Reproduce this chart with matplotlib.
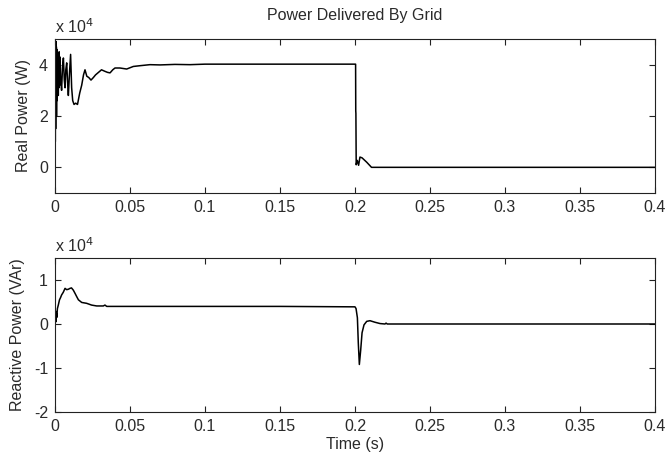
import matplotlib
matplotlib.use("Agg")
import matplotlib.pyplot as plt
import numpy as np

plt.rcParams['font.family'] = ['Liberation Sans', 'DejaVu Sans']

# Time axis ticks
x_ticks = [0, 0.05, 0.1, 0.15, 0.2, 0.25, 0.3, 0.35, 0.4]
x_tick_labels = ['0', '0.05', '0.1', '0.15', '0.2', '0.25', '0.3', '0.35', '0.4']

# Real power (units of 1e4 W)
real_t = [0.0, 0.0001, 0.0002, 0.0003, 0.0004, 0.0005, 0.0006, 0.0007, 0.0008, 0.0009,
          0.0010, 0.0012, 0.0014, 0.0016, 0.0018, 0.0020, 0.0022, 0.0024, 0.0026, 0.0028,
          0.0031, 0.0033, 0.0038, 0.0044, 0.0050, 0.0056, 0.0062, 0.0067,
          0.0072, 0.0078, 0.0084, 0.0089, 0.0096, 0.0104, 0.0111, 0.0118, 0.0127, 0.0138,
          0.0150, 0.0165, 0.0178, 0.0190, 0.0200, 0.0212, 0.0225, 0.0240, 0.0256, 0.0270,
          0.0290, 0.0310, 0.0333, 0.0350, 0.0367, 0.0385, 0.0400, 0.0433, 0.0478, 0.0522,
          0.0567, 0.0633, 0.0700, 0.0800, 0.0900, 0.1000, 0.1200, 0.1400, 0.1600, 0.1800,
          0.2004, 0.2005, 0.2006, 0.2008, 0.2015, 0.2024, 0.2033, 0.2047, 0.2078, 0.2110,
          0.2500, 0.3000, 0.3500, 0.4000]
real_p = [0.8, 5.0, 1.0, 4.9, 1.5, 4.8, 2.2, 4.9, 2.5, 4.7,
          2.0, 4.6, 2.6, 4.5, 3.0, 4.2, 2.8, 4.4, 3.1, 4.5,
          3.2, 4.3, 3.4, 3.0, 3.9, 4.26, 3.4, 3.1,
          3.8, 4.07, 3.3, 2.8, 3.6, 4.4, 3.1, 2.6, 2.45, 2.5,
          2.45, 2.9, 3.2, 3.6, 3.8, 3.55, 3.5, 3.4, 3.5, 3.6,
          3.7, 3.8, 3.74, 3.7, 3.68, 3.8, 3.87, 3.87, 3.83, 3.93,
          3.96, 4.0, 3.99, 4.01, 4.0, 4.02, 4.02, 4.02, 4.02, 4.02,
          4.02, 2.2, 2.1, 0.1, 0.27, 0.08, 0.4, 0.37, 0.2, 0.0,
          0.0, 0.0, 0.0, 0.0]

# Reactive power (units of 1e4 VAr)
reac_t = [0.0, 0.0003, 0.0006, 0.0009, 0.0012, 0.0016, 0.0022, 0.0030, 0.0037, 0.0044,
          0.0055, 0.0067, 0.0078, 0.0089, 0.0100, 0.0110, 0.0122, 0.0133, 0.0145, 0.0156,
          0.0178, 0.0211, 0.0244, 0.0278, 0.0322, 0.0333, 0.0345, 0.0500, 0.1000, 0.1500,
          0.2000, 0.2007, 0.2016, 0.2022, 0.2029, 0.2038, 0.2047, 0.2060, 0.2078, 0.2100,
          0.2133, 0.2167, 0.2200, 0.2207, 0.2215, 0.2500, 0.3000, 0.3500, 0.4000]
reac_q = [0.0, 0.3, 0.05, 0.25, 0.15, 0.35, 0.43, 0.55, 0.6, 0.66,
          0.72, 0.81, 0.78, 0.79, 0.81, 0.82, 0.77, 0.70, 0.62, 0.55,
          0.49, 0.47, 0.43, 0.41, 0.41, 0.43, 0.40, 0.40, 0.40, 0.40,
          0.39, 0.35, 0.14, -0.43, -0.92, -0.59, -0.2, -0.02, 0.06, 0.075,
          0.04, 0.01, 0.0, 0.02, 0.0, 0.0, 0.0, 0.0, 0.0]

text_col = '#2a2a2a'

fig = plt.figure(figsize=(6.7, 4.54), dpi=100)
ax1 = fig.add_axes([55/670, 1 - 193/454, 600/670, 154/454])
ax2 = fig.add_axes([55/670, 1 - 412/454, 600/670, 154/454])

fs = 11.5
for ax in (ax1, ax2):
    ax.set_xlim(0, 0.4)
    ax.set_xticks(x_ticks)
    ax.set_xticklabels(x_tick_labels)
    ax.tick_params(direction='in', length=4, width=0.8, top=True, right=True,
                   labelsize=fs, pad=5, color='#222222', labelcolor=text_col)
    for s in ax.spines.values():
        s.set_linewidth(0.8)
        s.set_color('#222222')

ax1.plot(real_t, real_p, color='black', linewidth=1.1)
ax1.set_ylim(-1, 5)
ax1.set_yticks([0, 2, 4])
ax1.set_yticklabels(['0', '2', '4'])
ax1.set_ylabel('Real Power (W)', fontsize=fs, labelpad=6, color=text_col)
ax1.set_title('Power Delivered By Grid', fontsize=fs, pad=14, color=text_col)
ax1.text(0.0, 1.02, r'x 10$^{4}$', transform=ax1.transAxes, fontsize=fs,
         ha='left', va='bottom', color=text_col)

ax2.plot(reac_t, reac_q, color='black', linewidth=1.1)
ax2.set_ylim(-2, 1.5)
ax2.set_yticks([-2, -1, 0, 1])
ax2.set_yticklabels(['-2', '-1', '0', '1'])
ax2.set_ylabel('Reactive Power (VAr)', fontsize=fs, labelpad=6, color=text_col)
ax2.set_xlabel('Time (s)', fontsize=fs, labelpad=2, color=text_col)
ax2.text(0.0, 1.02, r'x 10$^{4}$', transform=ax2.transAxes, fontsize=fs,
         ha='left', va='bottom', color=text_col)

fig.savefig('out.png', dpi=100, facecolor='white')
